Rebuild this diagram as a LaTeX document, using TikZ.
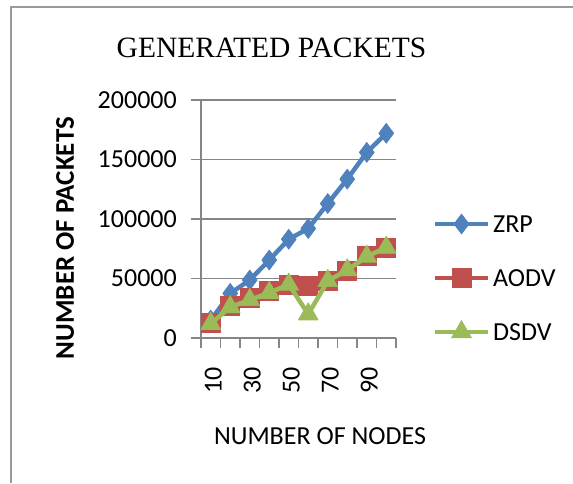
\documentclass[tikz,border=0pt]{standalone}
\usepackage{fontspec}
\setmainfont{Carlito}
\newfontfamily\titlefont{Liberation Serif}
\usetikzlibrary{plotmarks}
\definecolor{zrpc}{HTML}{4F81BD}
\definecolor{aodvc}{HTML}{C0504D}
\definecolor{dsdvc}{HTML}{9BBB59}
\definecolor{gridc}{HTML}{868686}
\definecolor{framec}{HTML}{9A9A9A}
\begin{document}
\begin{tikzpicture}[x=1pt,y=-1pt,
  gridline/.style={draw=gridc, line width=1.4pt},
  axisline/.style={draw=gridc, line width=1.4pt},
  lbl/.style={font=\fontsize{26}{28}\selectfont, inner sep=0pt, text=black},
  serie/.style={line width=4.5pt, line join=round},
  zrpmk/.style={mark=diamond*, mark size=10pt, mark options={fill=zrpc, draw=zrpc, line width=0.6pt, solid}},
  aodvmk/.style={mark=square*, mark size=9.5pt, mark options={fill=aodvc, draw=aodvc, line width=0.6pt, solid}},
  dsdvmk/.style={mark=triangle*, mark size=11.5pt, mark options={fill=dsdvc, draw=dsdvc, line width=0.6pt, solid}},
  ]
\useasboundingbox (0,0) rectangle (573,483);
% outer frame
\draw[draw=framec, line width=2pt] (10.5,483) -- (10.5,7) -- (573,7);
% title
\node[font=\titlefont\fontsize{29.5}{31}\selectfont, inner sep=0pt] (title) at (271.5,48) {GENERATED PACKETS};
% gridlines and y ticks
\foreach \v/\t in {0/0,50/50000,100/100000,150/150000,200/200000}{
  \coordinate (g\v) at (201,{338-\v*1.19});
  \draw[gridline] (191,{338-\v*1.19}) -- (396,{338-\v*1.19});
  \node[lbl, anchor=east] (yl\v) at (177,{338-\v*1.19}) {\t};
}
% axes
\draw[axisline] (201,100) -- (201,338);
\foreach \k in {0,...,10}{
  \draw[axisline] ({201+\k*19.5},338) -- ({201+\k*19.5},348);
}
% x tick labels
\foreach \i/\t in {1/10,3/30,5/50,7/70,9/90}{
  \node[lbl, rotate=90, anchor=east] (xl\t) at ({201+(\i-0.5)*19.5+2.5},367) {\t};
}
% axis titles
\node[lbl] (xtitle) at (320,436) {NUMBER OF NODES};
\node[lbl, font=\bfseries\fontsize{27}{29}\selectfont, rotate=90] (ytitle) at (65,238) {NUMBER OF PACKETS};
% data
\begin{scope}[shift={(191.25,338)}, x=19.5pt, y=1.19pt]
  \draw[serie, zrpc, zrpmk] plot coordinates {(1,15) (2,37.5) (3,48.7) (4,65.5) (5,83) (6,92) (7,113) (8,133.5) (9,156) (10,172)};
  \draw[serie, aodvc, aodvmk] plot coordinates {(1,12.5) (2,27) (3,33.5) (4,39.5) (5,45) (6,44) (7,48) (8,56.5) (9,69) (10,75.5)};
  \draw[serie, dsdvc, dsdvmk] plot coordinates {(1,12) (2,26) (3,32) (4,38) (5,45) (6,20) (7,48) (8,57) (9,68.5) (10,76)};
\end{scope}
% legend
\draw[serie, zrpc] (435,224) -- (488,224);
\path[zrpmk] plot coordinates {(461.5,224)};
\node[lbl, anchor=west] (lzrp) at (493,224) {ZRP};
\draw[serie, aodvc] (435,278) -- (488,278);
\path[aodvmk] plot coordinates {(461.5,278)};
\node[lbl, anchor=west] (laodv) at (493,278) {AODV};
\draw[serie, dsdvc] (435,332) -- (488,332);
\path[dsdvmk] plot coordinates {(461.5,332)};
\node[lbl, anchor=west] (ldsdv) at (493,332) {DSDV};
\end{tikzpicture}
\end{document}
